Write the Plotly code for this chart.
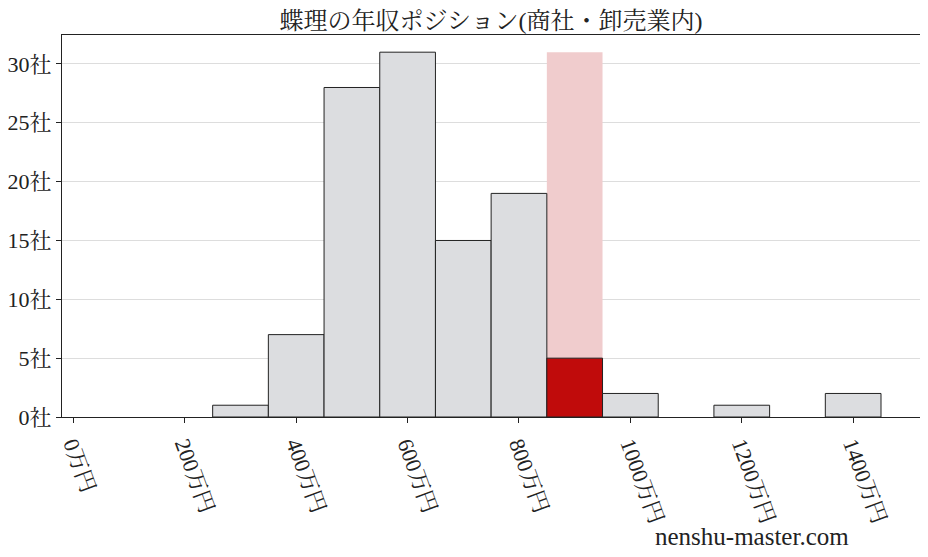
import plotly.graph_objects as go

# Salary bins (center, 万円) and number of companies in each bin
bin_centers = [300, 400, 500, 600, 700, 800, 900, 1000, 1100, 1200, 1300, 1400]
company_counts = [1, 7, 28, 31, 15, 19, 5, 2, 0, 1, 0, 2]
highlight_bin = 900  # the bin where 蝶理 sits

x_tick_vals = [0, 200, 400, 600, 800, 1000, 1200, 1400]
x_tick_text = ["0万円", "200万円", "400万円", "600万円", "800万円", "1000万円", "1200万円", "1400万円"]
y_tick_vals = [0, 5, 10, 15, 20, 25, 30]
y_tick_text = ["0社", "5社", "10社", "15社", "20社", "25社", "30社"]

font_family = "Liberation Serif, Noto Serif CJK JP, Noto Sans CJK JP"

bar_colors = ["#c00b0b" if c == highlight_bin else "#dcdde0" for c in bin_centers]
# empty bins get no outline
edge_widths = [1 if n > 0 else 0 for n in company_counts]

fig = go.Figure()

# pink band behind the highlighted bin
fig.add_trace(go.Bar(
    x=[highlight_bin], y=[max(company_counts)], width=100,
    marker=dict(color="#f0cccd", line=dict(width=0)),
    hoverinfo="skip", showlegend=False,
))

fig.add_trace(go.Bar(
    x=bin_centers, y=company_counts, width=100,
    marker=dict(color=bar_colors, line=dict(color="#222222", width=edge_widths)),
    showlegend=False,
))

# the page body adds an 8px offset, so margins are shifted by that
fig.update_layout(
    barmode="overlay",
    width=928, height=557,
    margin=dict(l=54, r=16, t=27, b=148, autoexpand=False),
    plot_bgcolor="white",
    paper_bgcolor="white",
    font=dict(family=font_family, size=22, color="#222222"),
    title=dict(text="蝶理の年収ポジション(商社・卸売業内)", x=0.5205, xanchor="center",
               y=0.977, yanchor="middle", font=dict(size=24)),
)

fig.update_xaxes(
    range=[-20.5, 1520], tickvals=x_tick_vals, ticktext=x_tick_text,
    tickangle=70, ticks="outside", ticklen=5, tickcolor="#222222",
    showline=True, linecolor="#222222", linewidth=1, mirror=True,
    showgrid=False, zeroline=False, tickfont=dict(size=22), automargin=False,
)
fig.update_yaxes(
    range=[0, 32.46], tickvals=y_tick_vals, ticktext=y_tick_text,
    ticks="outside", ticklen=5, tickcolor="#222222",
    showline=True, linecolor="#222222", linewidth=1, mirror=True,
    showgrid=True, gridcolor="#dddddd", gridwidth=1, zeroline=False,
    tickfont=dict(size=22), automargin=False,
)

fig.add_annotation(
    text="nenshu-master.com", xref="paper", yref="paper",
    x=0.919, y=-0.314, xanchor="right", yanchor="middle",
    showarrow=False, font=dict(size=25, color="#222222"),
)

fig.write_html("out.html")
